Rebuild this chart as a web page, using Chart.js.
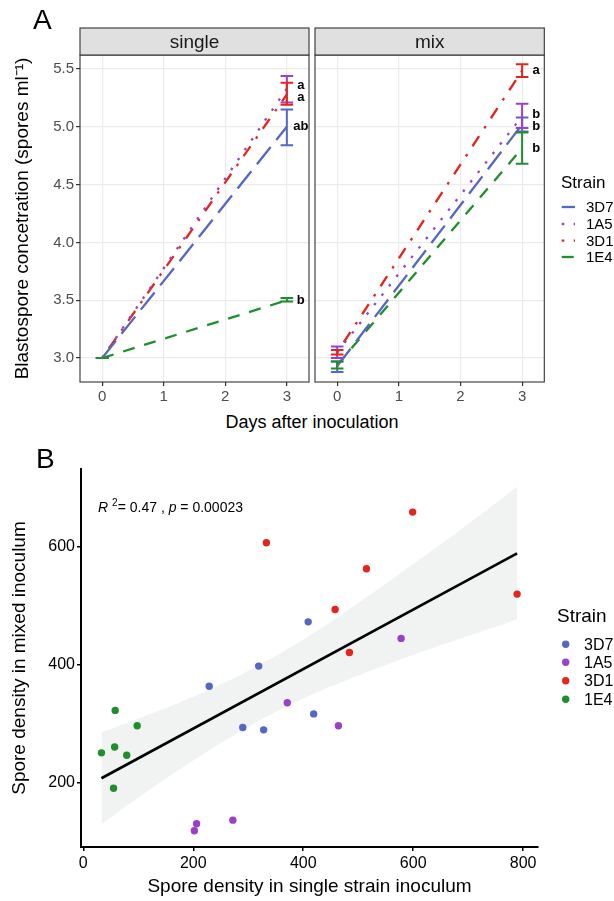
<!DOCTYPE html>
<html>
<head>
<meta charset="utf-8">
<script src="https://cdn.jsdelivr.net/npm/chart.js@4.4.0/dist/chart.umd.min.js"></script>
<style>
  body { margin: 0; background: #fff; font-family: "Liberation Sans", Arial, sans-serif; }
  #fig { position: relative; width: 614px; height: 901px; overflow: hidden; }
  canvas, .lbl { position: absolute; }
  .lbl { color: #000; white-space: nowrap; line-height: 1; }
</style>
</head>
<body>
<div id="fig">
  <canvas id="single" width="312" height="410" style="left:0;top:0"></canvas>
  <canvas id="mix" width="314" height="410" style="left:300px;top:0"></canvas>
  <canvas id="scatter" width="614" height="461" style="left:0;top:440px"></canvas>
  <div class="lbl" style="left:33px;top:6px;font-size:28px">A</div>
  <div class="lbl" style="left:212px;top:413px;width:200px;text-align:center;font-size:18px">Days after inoculation</div>
  <div class="lbl" style="left:36px;top:445px;font-size:28px">B</div>
</div>
<script>
// ---- panel A : blastospore concentration over time ----
const strains = ['3D7', '1A5', '3D1', '1E4'];
const days = [0, 3];
const yTicksA = [3.0, 3.5, 4.0, 4.5, 5.0, 5.5];
const xTicksA = [0, 1, 2, 3];

const singleDay0 = [3.00, 3.00, 3.00, 3.00];
const singleDay3 = [5.00, 5.33, 5.28, 3.50];
const singleLow0 = [3.00, 3.00, 3.00, 3.00];
const singleHigh0 = [3.00, 3.00, 3.00, 3.00];
const singleLow3 = [4.84, 5.21, 5.19, 3.49];
const singleHigh3 = [5.15, 5.44, 5.38, 3.52];
const singleLetters = ['ab', 'a', 'a', 'b'];

const mixDay0 = [2.93, 3.05, 3.05, 2.94];
const mixDay3 = [5.02, 5.09, 5.485, 4.815];
const mixLow0 = [2.88, 3.00, 3.03, 2.91];
const mixHigh0 = [2.97, 3.10, 3.07, 2.97];
const mixLow3 = [4.96, 4.99, 5.43, 4.68];
const mixHigh3 = [5.08, 5.20, 5.54, 4.95];
const mixLetters = ['b', 'b', 'a', 'b'];

// ---- panel B : single vs mixed inoculum ----
const x3D7 = [409, 319, 229, 290, 328, 419];
const y3D7 = [472, 397, 363, 293, 289, 316];
const x1A5 = [578, 371, 464, 206, 202, 272];
const y1A5 = [444, 335, 296, 130, 118, 136];
const x3D1 = [333, 599, 515, 458, 789, 484];
const y3D1 = [606, 658, 562, 493, 519, 420];
const x1E4 = [58, 98, 33, 57, 79, 55];
const y1E4 = [322, 296, 250, 260, 246, 190];
const fitX = [33, 789];
const fitY = [207, 588];
const bandX = [33, 100, 200, 300, 400, 500, 600, 700, 789];
const bandLow = [129, 174, 237, 294, 342, 381, 416, 448, 476];
const bandHigh = [285, 308, 345, 389, 442, 504, 570, 638, 701];
const xTicksB = [0, 200, 400, 600, 800];
const yTicksB = [200, 400, 600];

const colours = ['#5567c1', '#9b40c8', '#e2261e', '#1f8e2c'];
const dashes = [[22, 9], [2.5, 9.5], [2.5, 9.5, 12, 9.5], [12, 10]];
const FONT = '"Liberation Sans", Arial, sans-serif';

function lineSets(day0, day3) {
  return strains.map((s, i) => ({
    label: s,
    data: days.map((d, k) => ({ x: d, y: [day0, day3][k][i] })),
    borderColor: colours[i],
    borderDash: dashes[i],
    borderWidth: 2.3,
    borderCapStyle: 'butt',
    pointRadius: 0,
    fill: false,
    tension: 0
  }));
}

function makeFacet(cfg) {
  return {
    id: 'facet_' + cfg.strip,
    afterDatasetsDraw(chart) {
      const { ctx, chartArea: a, scales: { x, y } } = chart;
      ctx.save();
      ctx.lineWidth = 2;
      cfg.bars.forEach(b => {
        const px = x.getPixelForValue(b.day);
        strains.forEach((s, i) => {
          const y1 = y.getPixelForValue(b.lo[i]);
          const y2 = y.getPixelForValue(b.hi[i]);
          ctx.strokeStyle = colours[i];
          ctx.beginPath();
          ctx.moveTo(px, y1); ctx.lineTo(px, y2);
          ctx.moveTo(px - 6.3, y1); ctx.lineTo(px + 6.3, y1);
          ctx.moveTo(px - 6.3, y2); ctx.lineTo(px + 6.3, y2);
          ctx.stroke();
        });
      });

      // significance letters, nudged apart when they collide
      const lx = x.getPixelForValue(3) + 14;
      const pos = strains.map((s, i) => ({ i: i, py: y.getPixelForValue(cfg.letterY[i]) }))
        .sort((p, q) => p.py - q.py);
      for (let k = 1; k < pos.length; k++) {
        const gap = pos[k].py - pos[k - 1].py;
        if (gap < 12) {
          const mid = (pos[k].py + pos[k - 1].py) / 2;
          pos[k - 1].py = mid - 6;
          pos[k].py = mid + 6;
        }
      }
      ctx.fillStyle = '#000';
      ctx.font = 'bold 13px ' + FONT;
      ctx.textAlign = 'center';
      ctx.textBaseline = 'middle';
      pos.forEach(p => ctx.fillText(cfg.letters[p.i], lx, p.py));

      // panel border and strip
      ctx.strokeStyle = '#333';
      ctx.lineWidth = 1.1;
      ctx.strokeRect(a.left, a.top, a.right - a.left, a.bottom - a.top);
      ctx.fillStyle = '#e0e0e0';
      ctx.fillRect(a.left, 28, a.right - a.left, a.top - 28);
      ctx.strokeRect(a.left, 28, a.right - a.left, a.top - 28);
      ctx.fillStyle = '#1a1a1a';
      ctx.font = '19px ' + FONT;
      ctx.fillText(cfg.strip, (a.left + a.right) / 2, (28 + a.top) / 2 + 1);

      if (cfg.legend) {
        ctx.textAlign = 'left';
        ctx.fillStyle = '#000';
        ctx.font = '17px ' + FONT;
        ctx.fillText('Strain', 261, 183);
        ctx.font = '15px ' + FONT;
        const rows = [207, 224, 240.7, 257];
        strains.forEach((s, i) => {
          ctx.strokeStyle = colours[i];
          ctx.lineWidth = 2.3;
          ctx.lineCap = 'butt';
          ctx.setLineDash(dashes[i]);
          ctx.beginPath();
          ctx.moveTo(261.7, rows[i]); ctx.lineTo(275, rows[i]);
          ctx.stroke();
          ctx.setLineDash([]);
          ctx.fillStyle = '#000';
          ctx.fillText(s, 286, rows[i] + 1);
        });
      }
      ctx.restore();
    }
  };
}

function facetOptions(showY, pad) {
  return {
    responsive: false,
    animation: false,
    layout: { padding: pad },
    plugins: { legend: { display: false }, tooltip: { enabled: false } },
    scales: {
      x: {
        type: 'linear', min: -0.36, max: 3.36,
        afterBuildTicks: s => { s.ticks = xTicksA.map(v => ({ value: v })); },
        afterFit: s => { s.height = 28; },
        border: { display: false },
        grid: { color: '#ebebeb', lineWidth: 1.2, tickColor: '#333', tickLength: 4 },
        ticks: { color: '#4d4d4d', font: { family: FONT, size: 15 }, padding: 2, callback: v => String(v) }
      },
      y: {
        min: 2.793, max: 5.621,
        afterBuildTicks: s => { s.ticks = yTicksA.map(v => ({ value: v })); },
        afterFit: s => { s.width = showY ? 80 : 0; },
        border: { display: false },
        grid: { color: '#ebebeb', lineWidth: 1.2, tickColor: '#333', tickLength: 4, drawTicks: showY },
        ticks: { display: showY, color: '#4d4d4d', font: { family: FONT, size: 15 }, padding: 2, callback: v => v.toFixed(1) },
        title: {
          display: showY, text: 'Blastospore concetration (spores ml\u207B\u00B9)',
          color: '#000', font: { family: FONT, size: 19 }, padding: { top: 11, bottom: 0 }
        }
      }
    }
  };
}

new Chart(document.getElementById('single'), {
  type: 'line',
  data: { datasets: lineSets(singleDay0, singleDay3) },
  options: facetOptions(true, { top: 55, right: 3, bottom: 0, left: 0 }),
  plugins: [makeFacet({
    strip: 'single',
    bars: [{ day: 0, lo: singleLow0, hi: singleHigh0 }, { day: 3, lo: singleLow3, hi: singleHigh3 }],
    letters: singleLetters, letterY: singleDay3, legend: false
  })]
});

new Chart(document.getElementById('mix'), {
  type: 'line',
  data: { datasets: lineSets(mixDay0, mixDay3) },
  options: facetOptions(false, { top: 55, right: 69.7, bottom: 0, left: 15 }),
  plugins: [makeFacet({
    strip: 'mix',
    bars: [{ day: 0, lo: mixLow0, hi: mixHigh0 }, { day: 3, lo: mixLow3, hi: mixHigh3 }],
    letters: mixLetters, letterY: mixDay3, legend: true
  })]
});

// ---- panel B ----
const pointSets = [[x3D7, y3D7], [x1A5, y1A5], [x3D1, y3D1], [x1E4, y1E4]].map((p, i) => ({
  label: strains[i],
  data: p[0].map((v, k) => ({ x: v, y: p[1][k] })),
  showLine: false,
  pointRadius: 3.7,
  pointBorderWidth: 0,
  pointBackgroundColor: colours[i],
  pointBorderColor: colours[i]
}));

const scatterAnnot = {
  id: 'scatterAnnot',
  afterDraw(chart) {
    const ctx = chart.ctx;
    ctx.save();
    ctx.fillStyle = '#000';
    ctx.textBaseline = 'alphabetic';
    ctx.textAlign = 'left';
    let x = 98;
    const base = 72.3;
    const parts = [
      ['R', 'italic 14px', 0, 4],
      ['2', '10px', -6, 0],
      ['= 0.47 , ', '14px', 0, 0],
      ['p', 'italic 14px', 0, 0],
      [' = 0.00023', '14px', 0, 0]
    ];
    parts.forEach(p => {
      ctx.font = p[1] + ' ' + FONT;
      ctx.fillText(p[0], x, base + p[2]);
      x += ctx.measureText(p[0]).width + p[3];
    });

    // legend
    ctx.font = '19px ' + FONT;
    ctx.textBaseline = 'middle';
    ctx.fillText('Strain', 557, 177);
    ctx.font = '16px ' + FONT;
    const rows = [204.3, 222.3, 240.7, 259.3];
    strains.forEach((s, i) => {
      ctx.fillStyle = colours[i];
      ctx.beginPath();
      ctx.arc(565.7, rows[i], 3.7, 0, Math.PI * 2);
      ctx.fill();
      ctx.fillStyle = '#000';
      ctx.fillText(s, 584, rows[i] + 1);
    });
    ctx.restore();
  }
};

new Chart(document.getElementById('scatter'), {
  type: 'line',
  data: {
    datasets: pointSets.concat([
      {
        label: 'fit',
        data: fitX.map((v, k) => ({ x: v, y: fitY[k] })),
        borderColor: '#000', borderWidth: 2.6, pointRadius: 0, fill: false
      },
      {
        label: 'upper',
        data: bandX.map((v, k) => ({ x: v, y: bandHigh[k] })),
        borderWidth: 0, borderColor: 'rgba(0,0,0,0)', pointRadius: 0,
        tension: 0.4, fill: '+1', backgroundColor: '#f1f2f2'
      },
      {
        label: 'lower',
        data: bandX.map((v, k) => ({ x: v, y: bandLow[k] })),
        borderWidth: 0, borderColor: 'rgba(0,0,0,0)', pointRadius: 0,
        tension: 0.4, fill: false
      }
    ])
  },
  options: {
    responsive: false,
    animation: false,
    layout: { padding: { top: 29, right: 76, bottom: 0, left: 0 } },
    plugins: { legend: { display: false }, tooltip: { enabled: false } },
    scales: {
      x: {
        type: 'linear', min: -4.2, max: 827,
        afterBuildTicks: s => { s.ticks = xTicksB.map(v => ({ value: v })); },
        afterFit: s => { s.height = 54; },
        border: { display: true, color: '#000', width: 2 },
        grid: { drawOnChartArea: false, color: '#000', lineWidth: 1.5, tickLength: 4 },
        ticks: { color: '#000', font: { family: FONT, size: 16 }, padding: 3, callback: v => String(v) },
        title: { display: true, text: 'Spore density in single strain inoculum', color: '#000', font: { family: FONT, size: 19 }, padding: { top: 0, bottom: 3 } }
      },
      y: {
        min: 90.5, max: 731,
        afterBuildTicks: s => { s.ticks = yTicksB.map(v => ({ value: v })); },
        afterFit: s => { s.width = 81; },
        border: { display: true, color: '#000', width: 2 },
        grid: { drawOnChartArea: false, color: '#000', lineWidth: 1.5, tickLength: 4 },
        ticks: { color: '#000', font: { family: FONT, size: 16 }, padding: 2, callback: v => String(v) },
        title: { display: true, text: 'Spore density in mixed inoculum', color: '#000', font: { family: FONT, size: 19 }, padding: { top: 8, bottom: 0 } }
      }
    }
  },
  plugins: [scatterAnnot]
});
</script>
</body>
</html>
